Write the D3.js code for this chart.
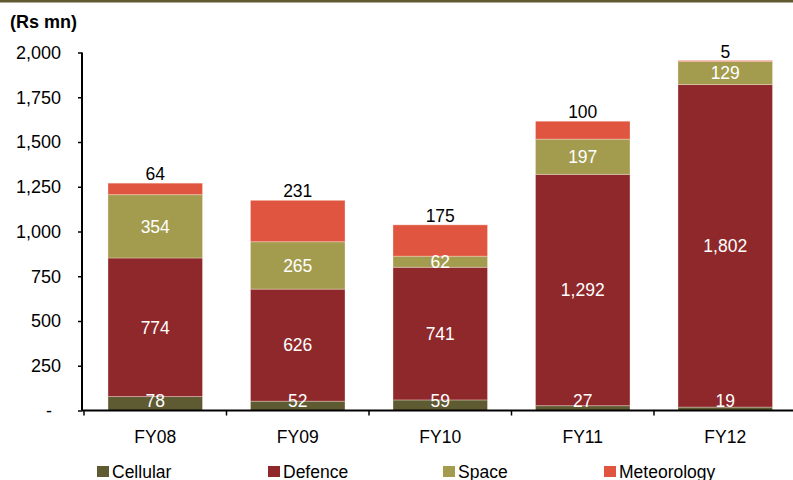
<!DOCTYPE html>
<html>
<head>
<meta charset="utf-8">
<script src="https://cdn.jsdelivr.net/npm/d3@7"></script>
<style>
  body { margin: 0; background: #fff; }
  svg { display: block; font-family: "Liberation Sans", Arial, sans-serif; }
</style>
</head>
<body>
<div id="chart"></div>
<script>
// values (Rs mn)
const years = ["FY08", "FY09", "FY10", "FY11", "FY12"]
const cellular = [78, 52, 59, 27, 19]
const defence = [774, 626, 741, 1292, 1802]
const space = [354, 265, 62, 197, 129]
const meteorology = [64, 231, 175, 100, 5]
const yTicks = [0, 250, 500, 750, 1000, 1250, 1500, 1750, 2000]

const seriesNames = ["Cellular", "Defence", "Space", "Meteorology"]
const colors = ["#5e5a32", "#8e282b", "#a39c4e", "#e0553f"]

const width = 793, height = 480
const fs = 17.5

const rows = years.map((yr, i) => ({
  year: yr,
  Cellular: cellular[i],
  Defence: defence[i],
  Space: space[i],
  Meteorology: meteorology[i]
}))

const stack = d3.stack().keys(seriesNames)(rows)

const x = d3.scaleBand()
  .domain(years)
  .range([84, 796.5])
  .paddingInner(0.337)
  .paddingOuter(0.337 / 2)

const y = d3.scaleLinear().domain([0, 2000]).range([410.5, 52.5])

const svg = d3.select("#chart").append("svg")
  .attr("width", width)
  .attr("height", height)

// top rule
svg.append("rect")
  .attr("x", 0).attr("y", 0)
  .attr("width", width).attr("height", 2.5)
  .attr("fill", "#5f5a30")

svg.append("text")
  .attr("x", 10).attr("y", 28)
  .attr("font-size", 18).attr("font-weight", "bold")
  .text("(Rs mn)")

// bars
const layer = svg.append("g").selectAll("g").data(stack).enter()
  .append("g")
  .attr("fill", (d, i) => colors[i])

layer.selectAll("rect").data(d => d).enter()
  .append("rect")
    .attr("x", d => x(d.data.year))
    .attr("width", x.bandwidth())
    .attr("y", d => y(d[1]))
    .attr("height", d => y(d[0]) - y(d[1]))
    .attr("stroke", "rgba(255,235,225,0.35)")
    .attr("stroke-width", 1)

// labels inside bars (first three series)
stack.slice(0, 3).forEach(s => {
  svg.append("g").selectAll("text").data(s).enter()
    .append("text")
      .attr("x", d => x(d.data.year) + x.bandwidth() / 2)
      .attr("y", d => Math.min((y(d[0]) + y(d[1])) / 2, y(0) - 10))
      .attr("dy", "0.36em")
      .attr("text-anchor", "middle")
      .attr("font-size", fs)
      .attr("fill", "#fff")
      .text(d => d3.format(",")(d[1] - d[0]))
})

// meteorology labels above bars
svg.append("g").selectAll("text").data(stack[3]).enter()
  .append("text")
    .attr("x", d => x(d.data.year) + x.bandwidth() / 2)
    .attr("y", d => y(d[1]) - 3)
    .attr("text-anchor", "middle")
    .attr("font-size", fs)
    .attr("fill", "#000")
    .text(d => d3.format(",")(d[1] - d[0]))

// y axis
const yAxis = svg.append("g")
  .attr("transform", "translate(82,0)")
  .call(d3.axisLeft(y).tickValues(yTicks).tickSize(4).tickPadding(17)
    .tickFormat(d => d === 0 ? "-" : d3.format(",")(d)))
yAxis.select(".domain").attr("stroke", "#000").attr("stroke-width", 2)
  .attr("d", "M0," + y(2000) + "V" + y(0))
yAxis.selectAll(".tick line").attr("stroke", "#000").attr("stroke-width", 1.5)
yAxis.selectAll(".tick text")
  .attr("font-size", 18).attr("fill", "#000")
  .attr("font-family", "Liberation Sans, Arial, sans-serif")
yAxis.selectAll(".tick").filter(d => d === 0).select("text")
  .attr("x", -30)

// x axis
const xAxisG = svg.append("g")
xAxisG.append("line")
  .attr("x1", 82).attr("x2", width)
  .attr("y1", y(0)).attr("y2", y(0))
  .attr("stroke", "#000").attr("stroke-width", 2)

const step = x.step()
const bounds = d3.range(years.length + 1).map(i => x.range()[0] + i * step)
xAxisG.selectAll(".xt").data(bounds).enter()
  .append("line")
    .attr("x1", d => d).attr("x2", d => d)
    .attr("y1", y(0)).attr("y2", y(0) + 5)
    .attr("stroke", "#000").attr("stroke-width", 1.5)

xAxisG.selectAll(".xl").data(years).enter()
  .append("text")
    .attr("x", d => x(d) + x.bandwidth() / 2)
    .attr("y", 443)
    .attr("text-anchor", "middle")
    .attr("font-size", fs)
    .text(d => d)

// legend
const legendX = [97, 268, 443, 604]
const legend = svg.append("g").selectAll("g").data(seriesNames).enter()
  .append("g")
  .attr("transform", (d, i) => "translate(" + legendX[i] + ",466)")

legend.append("rect")
  .attr("width", 12).attr("height", 11)
  .attr("fill", (d, i) => colors[i])

legend.append("text")
  .attr("x", 15).attr("y", 11.5)
  .attr("font-size", fs)
  .text(d => d)
</script>
</body>
</html>
